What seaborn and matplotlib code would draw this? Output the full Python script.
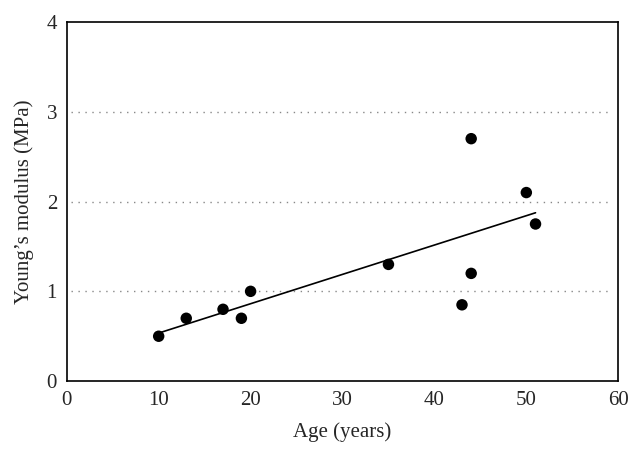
from matplotlib import pyplot as plt
import pandas as pd
import numpy as np
import seaborn as sns

age = [10, 13, 17, 19, 20, 35, 43, 44, 44, 50, 51]
modulus = [0.5, 0.7, 0.8, 0.7, 1.0, 1.3, 0.85, 1.2, 2.7, 2.1, 1.75]
x_ticks = [0, 10, 20, 30, 40, 50, 60]
y_ticks = [0, 1, 2, 3, 4]

df = pd.DataFrame({"age": age, "modulus": modulus})

sns.set_style("white")
plt.rcParams['font.family'] = ['Liberation Serif', 'DejaVu Serif']

fig = plt.figure(figsize=(6.42, 4.57), dpi=100)
ax = fig.add_axes([0.104, 0.166, 0.859, 0.786])

# dotted reference lines
for yv in [1, 2, 3]:
    ax.plot([0.5, 59], [yv, yv], color="#888888", linestyle=(0, (1, 4)), linewidth=1.0, zorder=0)

sns.regplot(data=df, x="age", y="modulus", ci=None, ax=ax,
            scatter_kws={"s": 68, "color": "black", "edgecolor": "none", "alpha": 1},
            line_kws={"color": "black", "linewidth": 1.2})

ax.set_xlim(0, 60)
ax.set_ylim(0, 4)
ax.set_xticks(x_ticks)
ax.set_yticks(y_ticks)
ax.tick_params(axis="x", direction="in", length=4, width=1, labelsize=15, pad=7, color="black")
ax.tick_params(axis="y", direction="in", length=0, labelsize=15, pad=7)
for s in ax.spines.values():
    s.set_color("black")
    s.set_linewidth(1.2)
ax.set_xlabel("Age (years)", fontsize=15, labelpad=9)
ax.set_ylabel("Young’s modulus (MPa)", fontsize=15, labelpad=9)

fig.savefig("out.png", dpi=100)
